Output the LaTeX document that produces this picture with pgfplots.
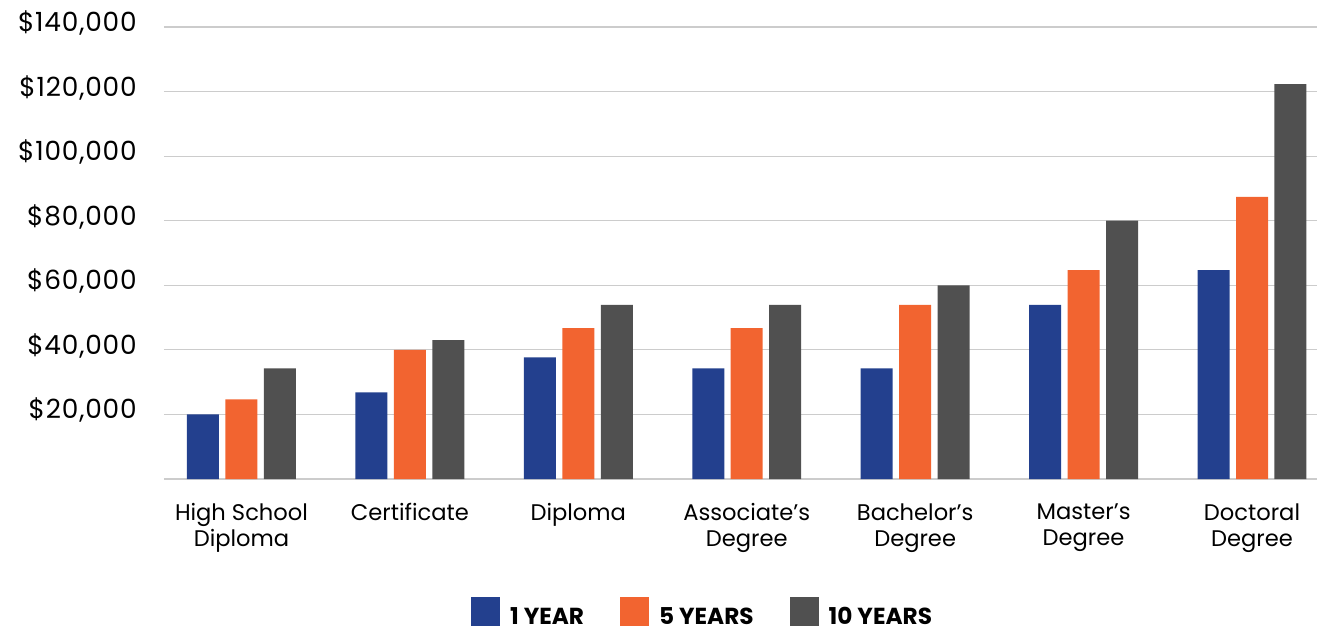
\documentclass[border=0pt]{standalone}
\usepackage{fontspec}
\setmainfont{Poppins}
\newfontfamily\tickfont[LetterSpace=3]{Poppins}
\usepackage{pgfplots}
\pgfplotsset{compat=1.18}
\definecolor{cblue}{HTML}{23408E}
\definecolor{corange}{HTML}{F26430}
\definecolor{cgray}{HTML}{505050}
\definecolor{cgrid}{HTML}{CCCCCC}
\begin{document}
\begin{tikzpicture}
\useasboundingbox (-82pt,-76.5pt) rectangle (576.5pt,239.5pt);
\begin{axis}[
  scale only axis, width=576.5pt, height=226pt,
  at={(0,0)}, anchor=south west,
  xmin=-0.46, xmax=6.386, ymin=0, ymax=140000,
  scaled y ticks=false,
  axis line style={draw=none},
  ytick={0,20000,40000,60000,80000,100000,120000,140000},
  yticklabels={{},{\$20,000},{\$40,000},{\$60,000},{\$80,000},{\$100,000},{\$120,000},{\$140,000}},
  yticklabel style={anchor=east, inner sep=0pt, xshift=-13.5pt, yshift=2pt, font=\tickfont\fontsize{13.2}{15}\selectfont},
  ymajorgrids, grid style={cgrid, line width=0.6pt},
  major tick length=0pt,
  xtick={0,1,2,3,4,5,6},
  xticklabels={{High School\\Diploma},{Certificate},{Diploma},{Associate’s\\Degree},{Bachelor’s\\Degree},{Master’s\\Degree},{Doctoral\\Degree}},
  xticklabel style={align=center, anchor=north, inner sep=0pt, yshift=-12pt, font=\fontsize{11.3}{13}\selectfont},
  ybar, bar width=0.19,
  legend columns=3,
  legend style={at={(0.468,-0.3)}, anchor=center, draw=none, fill=none,
    font=\fontsize{11.6}{13}\bfseries,
    /tikz/every odd column/.append style={column sep=3pt},
    /tikz/every even column/.append style={column sep=16pt}},
  legend image code/.code={\fill[#1] (0pt,-4.3pt) rectangle (14.5pt,10.2pt);},
]
\addplot[fill=cblue, draw=none, bar shift=-0.2285] coordinates {(0,20000) (1,26800) (2,37700) (3,34300) (4,34300) (5,53900) (6,64700)};
\addplot[fill=corange, draw=none, bar shift=0] coordinates {(0,24700) (1,40000) (2,46700) (3,46700) (4,53900) (5,64700) (6,87400)};
\addplot[fill=cgray, draw=none, bar shift=0.2285] coordinates {(0,34300) (1,43000) (2,53900) (3,53900) (4,60000) (5,80000) (6,122300)};
\legend{1 YEAR, 5 YEARS, 10 YEARS}
\end{axis}
\end{tikzpicture}
\end{document}
